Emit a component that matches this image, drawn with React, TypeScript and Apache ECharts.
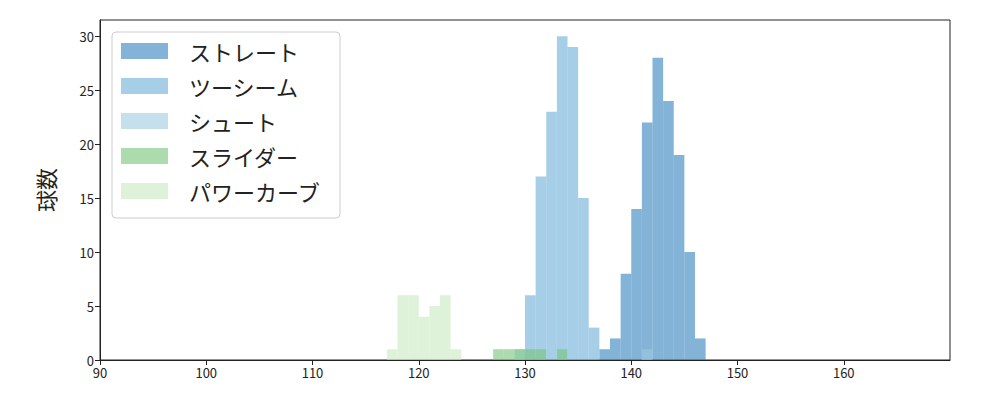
import React, { useEffect, useRef } from "react";
import * as echarts from "echarts";

const seriesNames = ["ストレート", "ツーシーム", "シュート", "スライダー", "パワーカーブ"];
const seriesColors = [
  "rgba(49,130,189,0.6)",
  "rgba(107,174,214,0.6)",
  "rgba(158,202,225,0.6)",
  "rgba(116,196,118,0.6)",
  "rgba(199,233,192,0.6)",
];

// histogram bins: start value of each 1 km/h bin, and counts
const straightBins = [137, 138, 139, 140, 141, 142, 143, 144, 145, 146];
const straightCounts = [1, 2, 8, 14, 22, 28, 24, 19, 10, 2];
const twoSeamBins = [130, 131, 132, 133, 134, 135, 136];
const twoSeamCounts = [6, 17, 23, 30, 29, 15, 3];
const shootBins = [129, 141];
const shootCounts = [1, 1];
const sliderBins = [127, 128, 129, 130, 131, 133];
const sliderCounts = [1, 1, 1, 1, 1, 1];
const powerCurveBins = [117, 118, 119, 120, 121, 122, 123];
const powerCurveCounts = [1, 6, 6, 4, 5, 6, 1];

const binWidth = 1;
const xTicks = [90, 100, 110, 120, 130, 140, 150, 160];
const yTicks = [0, 5, 10, 15, 20, 25, 30];

const allBins = [straightBins, twoSeamBins, shootBins, sliderBins, powerCurveBins];
const allCounts = [straightCounts, twoSeamCounts, shootCounts, sliderCounts, powerCurveCounts];

export default function App() {
  const ref = useRef<HTMLDivElement>(null);
  useEffect(() => {
    if (!ref.current) return;
    const chart = echarts.init(ref.current, null, { renderer: "svg" });
    const font = "'Noto Sans CJK JP', 'Noto Sans', sans-serif";
    const series = seriesNames.map((name, i) => ({
      type: "custom",
      name,
      itemStyle: { color: seriesColors[i] },
      encode: { x: [0, 1], y: 2 },
      data: allBins[i].map((b, j) => [b, b + binWidth, allCounts[i][j]]),
      renderItem: (params: any, api: any) => {
        const p0 = api.coord([api.value(0), api.value(2)]);
        const p1 = api.coord([api.value(1), 0]);
        return {
          type: "rect",
          shape: { x: p0[0], y: p0[1], width: p1[0] - p0[0], height: p1[1] - p0[1] },
          style: { fill: seriesColors[i] },
        };
      },
    }));
    chart.setOption({
      animation: false,
      textStyle: { fontFamily: font },
      grid: {
        left: 100,
        right: 50,
        top: 20,
        bottom: 40,
        show: true,
        borderColor: "#222",
        borderWidth: 1,
        backgroundColor: "transparent",
      },
      legend: {
        orient: "vertical",
        left: 112,
        top: 32,
        padding: [8, 19, 16, 9],
        itemWidth: 47,
        itemHeight: 16,
        itemGap: 13,
        backgroundColor: "rgba(255,255,255,0.8)",
        borderColor: "#cccccc",
        borderWidth: 1,
        borderRadius: 4,
        icon: "rect",
        textStyle: { fontSize: 22, lineHeight: 22, color: "#222", fontFamily: font, padding: [0, 0, 0, 16] },
        data: seriesNames.map((n, i) => ({ name: n, itemStyle: { color: seriesColors[i] } })),
      },
      xAxis: {
        type: "value",
        min: 90,
        max: 170,
        interval: 10,
        splitLine: { show: false },
        axisLine: { show: true, onZero: false, lineStyle: { color: "#222", width: 1 } },
        axisTick: { show: true, length: 5, lineStyle: { color: "#222" }, customValues: xTicks },
        axisLabel: { fontSize: 13, color: "#222", margin: 6, customValues: xTicks },
      },
      yAxis: {
        type: "value",
        min: 0,
        max: 31.5,
        interval: 5,
        name: "球数",
        nameLocation: "middle",
        nameGap: 44,
        nameTextStyle: { fontSize: 22, color: "#222", fontFamily: font },
        splitLine: { show: false },
        axisLine: { show: true, lineStyle: { color: "#222", width: 1 } },
        axisTick: { show: true, length: 5, lineStyle: { color: "#222" }, customValues: yTicks },
        axisLabel: { fontSize: 13, color: "#222", margin: 6, customValues: yTicks },
      },
      series,
    });
    return () => chart.dispose();
  }, []);
  return (
    <div
      ref={ref}
      style={{ position: "fixed", left: 0, top: 0, width: 1000, height: 400, background: "#fff" }}
    />
  );
}
